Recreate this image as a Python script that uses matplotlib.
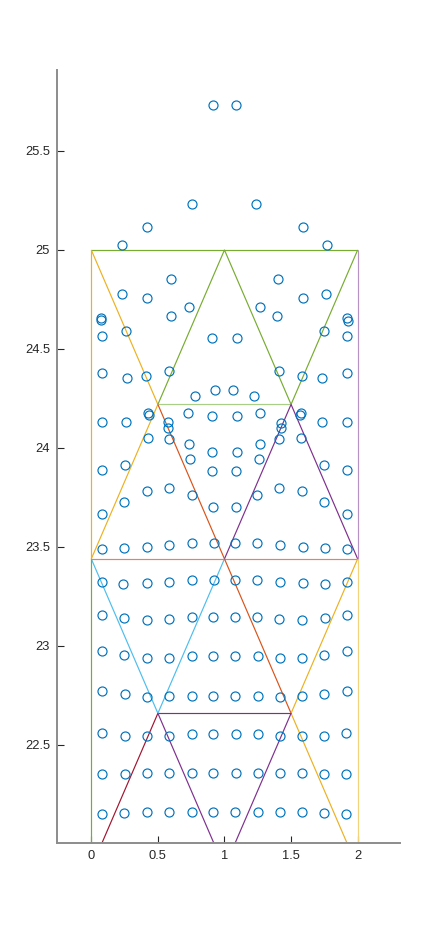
import matplotlib
matplotlib.use("Agg")
import matplotlib.pyplot as plt

plt.rcParams['font.family'] = ['Liberation Sans', 'DejaVu Sans']

# ---- truss member data (x list, y list) ----
levels = [25.0, 24.22, 23.44, 22.66, 21.88]
members = [
    ([0, 0], [25.0, 23.44], 'yellow'),
    ([0, 2], [25.0, 25.0], 'green'),
    ([0, 0.5, 0], [25.0, 24.22, 23.44], 'yellow'),
    ([0.5, 1, 1.5, 2], [24.22, 25.0, 24.22, 25.0], 'green'),
    ([0.5, 1.5], [24.22, 24.22], 'lightgreen'),
    ([0.5, 1], [24.22, 23.44], 'orange'),
    ([1, 1.5, 2], [23.44, 24.22, 23.44], 'purple'),
    ([2, 2], [25.0, 23.44], 'lightpurple'),
    ([0, 2], [23.44, 23.44], 'lightorange'),
    ([0, 0.5, 1], [23.44, 22.66, 23.44], 'cyan'),
    ([1, 1.5], [23.44, 22.66], 'orange'),
    ([2, 1.5, 2], [23.44, 22.66, 21.88], 'yellow'),
    ([0.5, 1.5], [22.66, 22.66], 'purple'),
    ([0.5, 0], [22.66, 21.88], 'darkred'),
    ([0.5, 1, 1.5], [22.66, 21.88, 22.66], 'purple'),
    ([0, 0], [23.44, 21.88], 'green'),
    ([2, 2], [23.44, 21.88], 'lightyellow'),
]

# ---- scattered points (upper zone) ----
upper_x = [0.914, 1.086, 0.758, 1.239, 0.416, 1.592, 0.233, 1.770,
           0.601, 1.404, 0.233, 1.764, 0.416, 1.592, 0.736, 1.269,
           0.601, 1.396, 0.075, 0.075, 1.920, 1.929, 0.083, 0.258,
           0.908, 1.096, 1.749, 1.922, 0.083, 0.266, 0.413, 0.586,
           1.411, 1.584, 1.734, 1.922, 0.781, 0.931, 1.066, 1.221,
           0.428, 0.433, 0.728, 1.269, 0.908, 1.096, 1.574, 1.569,
           0.083, 0.263, 0.578, 0.578, 1.426, 1.422, 1.734, 1.922,
           0.428, 0.586, 1.411, 1.574, 0.736, 1.269, 0.908, 1.096,
           0.743, 1.261, 0.083, 0.255, 0.908, 1.089, 1.745, 1.922,
           0.420, 0.586, 0.754, 1.246, 1.411, 1.584, 0.248, 1.749,
           0.916, 1.089, 0.083, 1.917]
upper_y = [25.732, 25.732, 25.231, 25.231, 25.115, 25.115, 25.024, 25.024,
           24.852, 24.852, 24.776, 24.776, 24.758, 24.758, 24.711, 24.711,
           24.665, 24.665, 24.658, 24.645, 24.658, 24.641, 24.564, 24.591,
           24.554, 24.554, 24.591, 24.564, 24.379, 24.354, 24.364, 24.387,
           24.387, 24.364, 24.354, 24.379, 24.263, 24.291, 24.291, 24.263,
           24.177, 24.167, 24.175, 24.175, 24.162, 24.162, 24.177, 24.167,
           24.130, 24.130, 24.130, 24.100, 24.128, 24.100, 24.130, 24.130,
           24.049, 24.044, 24.044, 24.049, 24.020, 24.020, 23.978, 23.978,
           23.943, 23.943, 23.889, 23.914, 23.884, 23.884, 23.914, 23.889,
           23.783, 23.798, 23.761, 23.761, 23.798, 23.783, 23.727, 23.727,
           23.700, 23.700, 23.665, 23.665]

# ---- grid rows (lower zone) ----
rowA_x = [0.083, 0.248, 0.416, 0.586, 0.758, 0.923, 1.081, 1.246, 1.419, 1.592, 1.757, 1.922]
rowA_y = [23.490, 23.493, 23.498, 23.510, 23.519, 23.519, 23.519, 23.519, 23.509, 23.498, 23.493, 23.490]
rowB_x = [0.083, 0.240, 0.416, 0.586, 0.758, 0.923, 1.081, 1.246, 1.419, 1.592, 1.757, 1.922]
rowB_y = [23.322, 23.312, 23.317, 23.323, 23.332, 23.332, 23.332, 23.332, 23.323, 23.317, 23.312, 23.322]
rowC_x = [0.083, 0.248, 0.416, 0.586, 0.754, 0.916, 1.081, 1.246, 1.411, 1.584, 1.757, 1.922]
rowC_y = [23.157, 23.143, 23.131, 23.136, 23.145, 23.148, 23.148, 23.145, 23.136, 23.131, 23.143, 23.157]
rowD_x = [0.083, 0.248, 0.420, 0.586, 0.754, 0.916, 1.081, 1.254, 1.419, 1.584, 1.749, 1.922]
rowD_y = [22.973, 22.955, 22.938, 22.938, 22.949, 22.949, 22.949, 22.949, 22.938, 22.938, 22.955, 22.973]
rowE_x = [0.083, 0.255, 0.420, 0.586, 0.754, 0.916, 1.081, 1.254, 1.419, 1.584, 1.749, 1.922]
rowE_y = [22.773, 22.758, 22.744, 22.747, 22.747, 22.747, 22.747, 22.747, 22.744, 22.747, 22.758, 22.773]
rowF_x = [0.083, 0.255, 0.420, 0.586, 0.754, 0.916, 1.089, 1.254, 1.419, 1.584, 1.749, 1.914]
rowF_y = [22.559, 22.547, 22.547, 22.547, 22.554, 22.554, 22.554, 22.554, 22.547, 22.547, 22.547, 22.559]
rowG_x = [0.083, 0.255, 0.420, 0.586, 0.754, 0.916, 1.089, 1.254, 1.419, 1.584, 1.749, 1.914]
rowG_y = [22.352, 22.352, 22.357, 22.357, 22.357, 22.357, 22.357, 22.357, 22.357, 22.357, 22.352, 22.352]
rowH_x = [0.083, 0.248, 0.420, 0.586, 0.754, 0.916, 1.081, 1.254, 1.419, 1.584, 1.749, 1.914]
rowH_y = [22.150, 22.157, 22.160, 22.160, 22.160, 22.160, 22.160, 22.160, 22.160, 22.160, 22.157, 22.150]

x_ticks = [0, 0.5, 1, 1.5, 2]
x_tick_labels = ['0', '0.5', '1', '1.5', '2']
y_ticks = [22.5, 23, 23.5, 24, 24.5, 25, 25.5]
y_tick_labels = ['22.5', '23', '23.5', '24', '24.5', '25', '25.5']

colors = {
    'blue': '#0072BD', 'orange': '#D95319', 'yellow': '#EDB120',
    'purple': '#7E2F8E', 'green': '#77AC30', 'cyan': '#4DBEEE',
    'darkred': '#A2142F', 'lightgreen': '#A9CF86', 'lightpurple': '#B892C2',
    'lightorange': '#E3845A', 'lightyellow': '#F3D27C',
}

fig = plt.figure(figsize=(4.42, 9.47), dpi=100)
ax = fig.add_axes([57 / 442, (947 - 843) / 947, (400 - 57) / 442, (843 - 70) / 947])

for mx, my, c in members:
    ax.plot(mx, my, color=colors[c], lw=0.85, solid_capstyle='butt', zorder=2)

all_x = upper_x + rowA_x + rowB_x + rowC_x + rowD_x + rowE_x + rowF_x + rowG_x + rowH_x
all_y = upper_y + rowA_y + rowB_y + rowC_y + rowD_y + rowE_y + rowF_y + rowG_y + rowH_y
ax.plot(all_x, all_y, linestyle='none', marker='o', markersize=6.5,
        markerfacecolor='none', markeredgecolor=colors['blue'], markeredgewidth=0.85, zorder=3)

ax.set_xlim(-0.2575, 2.318)
ax.set_ylim(22.005, 25.909)
ax.set_xticks(x_ticks)
ax.set_xticklabels(x_tick_labels)
ax.set_yticks(y_ticks)
ax.set_yticklabels(y_tick_labels)

for s in ['top', 'right']:
    ax.spines[s].set_visible(False)
for s in ['left', 'bottom']:
    ax.spines[s].set_color('#8c8c8c')
    ax.spines[s].set_linewidth(1.4)
ax.tick_params(direction='in', length=5, width=0.8, color='#262626',
               labelsize=9.3, labelcolor='#262626', pad=5)

fig.savefig('out.png', dpi=100)
